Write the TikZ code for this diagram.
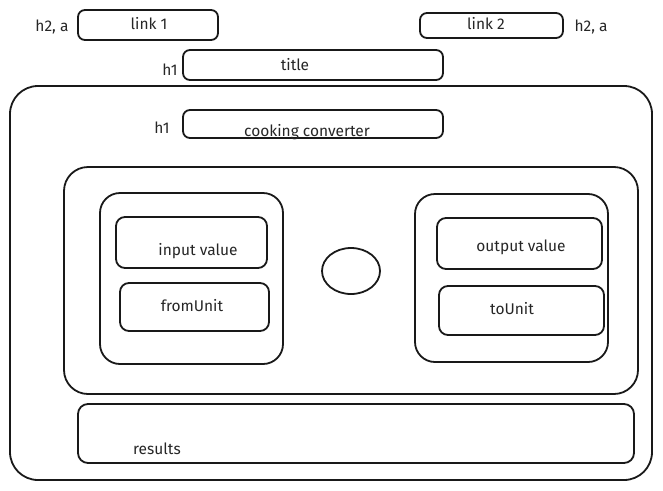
\documentclass[tikz,border=0pt]{standalone}
\usepackage{fontspec}
\setmainfont{Fira Sans}
\usetikzlibrary{shapes.geometric}
\begin{document}
\begin{tikzpicture}[x=1pt,y=-1pt,
  box/.style={draw=black!90, line width=1.8pt, rounded corners=7pt, inner sep=0pt, minimum width=#1},
  box/.default=10pt,
  lbl/.style={font=\fontsize{15.5}{18}\selectfont, text=black!85, inner sep=0pt}]
\useasboundingbox (0,0) rectangle (663,490);
% top links and title
\node[box=140pt, minimum height=30pt] (link1) at (148,25) {};
\node[lbl] (link1t) at (149,24) {link 1};
\node[lbl] (h2a1) at (52,27) {h2, a};
\node[box=143pt, minimum height=25pt] (link2) at (491.5,25.5) {};
\node[lbl] (link2t) at (486,24) {link 2};
\node[lbl] (h2a2) at (591,27) {h2, a};
\node[box=260pt, minimum height=30pt] (title) at (313,65) {};
\node[lbl] (titlet) at (295,65) {title};
\node[lbl] (h1a) at (170,70) {h1};
% outer container
\node[box=642pt, minimum height=394pt, rounded corners=28pt] (outer) at (331,283) {};
\node[box=260pt, minimum height=28pt] (cook) at (313,124) {};
\node[lbl] (cookt) at (307,132) {cooking converter};
\node[lbl] (h1b) at (162,128) {h1};
% middle container
\node[box=574pt, minimum height=227pt, rounded corners=24pt] (mid) at (351,280.5) {};
% left group
\node[box=183pt, minimum height=171pt, rounded corners=20pt] (left) at (191.5,278.5) {};
\node[box=151pt, minimum height=51pt, rounded corners=9pt] (inval) at (191.5,242.5) {};
\node[lbl] (invalt) at (198,251) {input value};
\node[box=149pt, minimum height=48pt, rounded corners=9pt] (from) at (194.5,307) {};
\node[lbl] (fromt) at (192,306) {fromUnit};
% circle
\node[draw=black!90, line width=1.8pt, ellipse, minimum width=58pt, minimum height=46pt, inner sep=0pt] (swap) at (351,271) {};
% right group
\node[box=193pt, minimum height=168pt, rounded corners=20pt] (right) at (511.5,278) {};
\node[box=165pt, minimum height=51pt, rounded corners=9pt] (outval) at (519.5,243.5) {};
\node[lbl] (outvalt) at (521,247) {output value};
\node[box=165pt, minimum height=49pt, rounded corners=9pt] (to) at (521.5,310.5) {};
\node[lbl] (tot) at (512,309) {toUnit};
% results
\node[box=556pt, minimum height=59pt, rounded corners=10pt] (res) at (356,433.5) {};
\node[lbl] (rest) at (157,449) {results};
\end{tikzpicture}
\end{document}
